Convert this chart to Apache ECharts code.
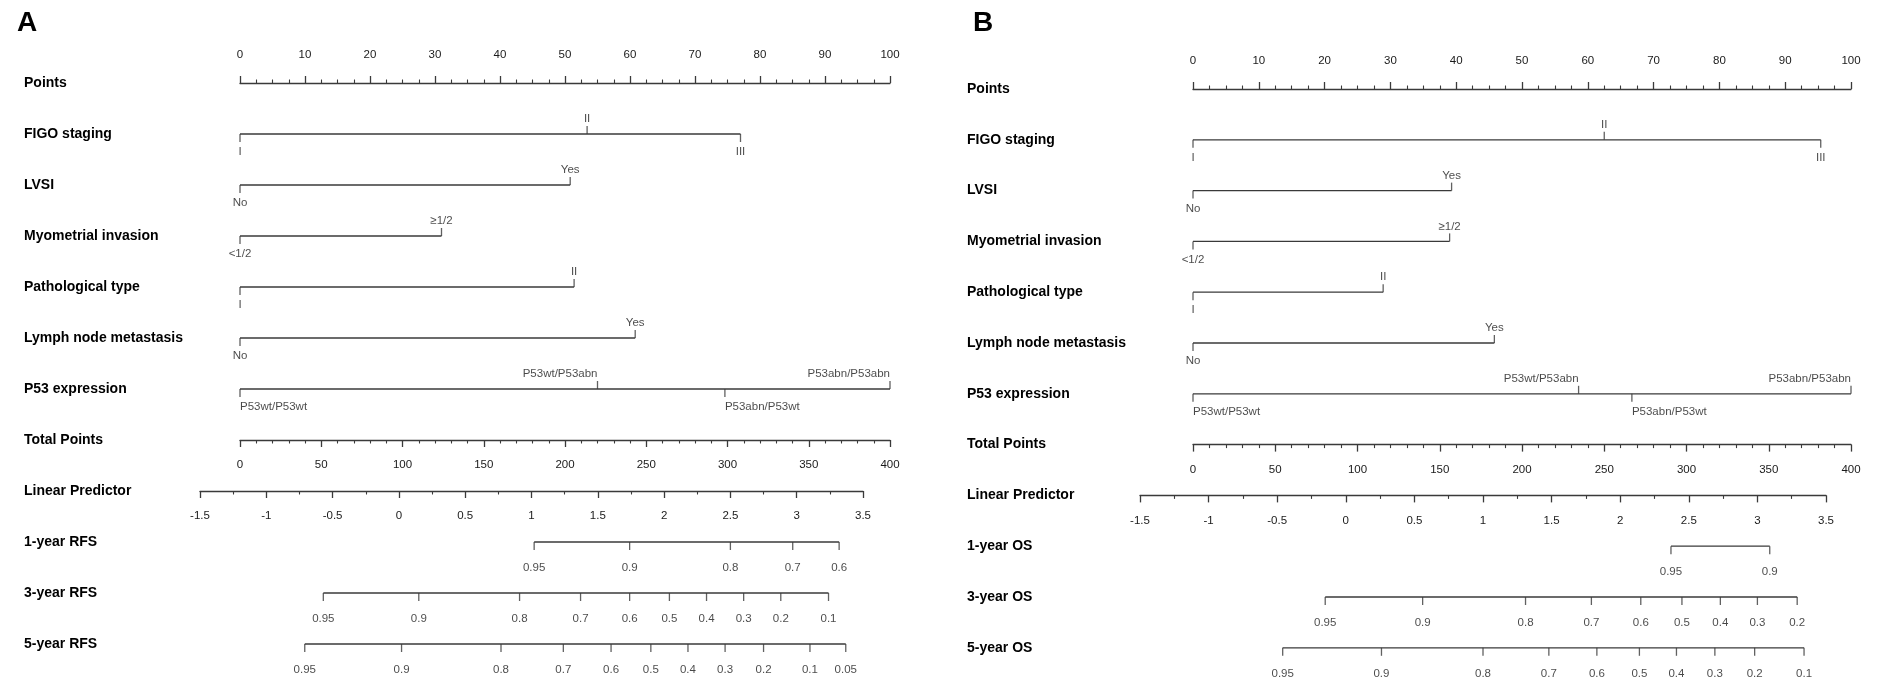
<!DOCTYPE html>
<html>
<head>
<meta charset="utf-8">
<title>Nomogram</title>
<script src="https://cdn.jsdelivr.net/npm/echarts@6/dist/echarts.min.js"></script>
<style>
html, body { margin: 0; padding: 0; background: #fff; }
#nomo { width: 1890px; height: 699px; }
</style>
</head>
<body>
<div id="nomo"></div>
<script>
// row names of the two nomograms
var rowNamesA = ['Points', 'FIGO staging', 'LVSI', 'Myometrial invasion', 'Pathological type',
	'Lymph node metastasis', 'P53 expression', 'Total Points', 'Linear Predictor',
	'1-year RFS', '3-year RFS', '5-year RFS'];
var rowNamesB = ['Points', 'FIGO staging', 'LVSI', 'Myometrial invasion', 'Pathological type',
	'Lymph node metastasis', 'P53 expression', 'Total Points', 'Linear Predictor',
	'1-year OS', '3-year OS', '5-year OS'];

// predictor levels and their points
var levelNames = [
	['I', 'II', 'III'],
	['No', 'Yes'],
	['<1/2', '≥1/2'],
	['I', 'II'],
	['No', 'Yes'],
	['P53wt/P53wt', 'P53wt/P53abn', 'P53abn/P53wt', 'P53abn/P53abn']
];
var levelPointsA = [[0, 53.4, 77.0], [0, 50.8], [0, 31.0], [0, 51.4], [0, 60.8], [0, 55.0, 74.6, 100]];
var levelPointsB = [[0, 62.5, 95.4], [0, 39.3], [0, 39.0], [0, 28.9], [0, 45.8], [0, 58.6, 66.7, 100]];

// scale ticks
var pointTicks = [0, 10, 20, 30, 40, 50, 60, 70, 80, 90, 100];
var totalTicks = [0, 50, 100, 150, 200, 250, 300, 350, 400];
var lpTicks = [-1.5, -1, -0.5, 0, 0.5, 1, 1.5, 2, 2.5, 3, 3.5];

// survival probabilities and where they sit on the linear predictor
var survProbsA = [
	[0.95, 0.9, 0.8, 0.7, 0.6],
	[0.95, 0.9, 0.8, 0.7, 0.6, 0.5, 0.4, 0.3, 0.2, 0.1],
	[0.95, 0.9, 0.8, 0.7, 0.6, 0.5, 0.4, 0.3, 0.2, 0.1, 0.05]
];
var survLpA = [
	[1.02, 1.74, 2.50, 2.97, 3.32],
	[-0.57, 0.15, 0.91, 1.37, 1.74, 2.04, 2.32, 2.60, 2.88, 3.24],
	[-0.71, 0.02, 0.77, 1.24, 1.60, 1.90, 2.18, 2.46, 2.75, 3.10, 3.37]
];
var survProbsB = [
	[0.95, 0.9],
	[0.95, 0.9, 0.8, 0.7, 0.6, 0.5, 0.4, 0.3, 0.2],
	[0.95, 0.9, 0.8, 0.7, 0.6, 0.5, 0.4, 0.3, 0.2, 0.1]
];
var survLpB = [
	[2.37, 3.09],
	[-0.15, 0.56, 1.31, 1.79, 2.15, 2.45, 2.73, 3.00, 3.29],
	[-0.46, 0.26, 1.00, 1.48, 1.83, 2.14, 2.41, 2.69, 2.98, 3.34]
];

var FONT = '"Liberation Sans", Arial, sans-serif';
var INK = '#3a3a3a';
var TXT = '#1a1a1a';
var TICK_FONT = 11.5;

var panels = [
	{ tag: 'A', tagLeft: 12, rows: rowNamesA, pts: levelPointsA, probs: survProbsA, lp: survLpA,
		labelX: 24, ptsLeft: 240, ptsWidth: 650, lpLeft: 200, lpWidth: 663, top: 83, step: 51 },
	{ tag: 'B', tagLeft: 968, rows: rowNamesB, pts: levelPointsB, probs: survProbsB, lp: survLpB,
		labelX: 967, ptsLeft: 1193, ptsWidth: 658, lpLeft: 1140, lpWidth: 686, top: 89, step: 50.8 }
];

function scaleAxis(gridIndex, position, ticks, minorSplit, margin) {
	return {
		type: 'value', gridIndex: gridIndex, position: position,
		min: ticks[0], max: ticks[ticks.length - 1], interval: ticks[1] - ticks[0],
		axisLine: { show: true, lineStyle: { color: INK, width: 1.3 } },
		axisTick: { show: true, length: 7, lineStyle: { color: INK, width: 1.3 } },
		minorTick: { show: true, splitNumber: minorSplit, length: 3.5, lineStyle: { color: INK, width: 1.1 } },
		axisLabel: { show: true, margin: margin, color: TXT, fontSize: TICK_FONT, fontFamily: FONT },
		splitLine: { show: false }, minorSplitLine: { show: false }
	};
}
function hiddenAxis(gridIndex, min, max, inverse) {
	return { type: 'value', gridIndex: gridIndex, min: min, max: max, inverse: !!inverse, show: false };
}

var grid = [], xAxis = [], yAxis = [], series = [], title = [];

panels.forEach(function (p, k) {
	var g = k * 4;
	var nRows = p.rows.length - 1;
	title.push({ text: p.tag, left: p.tagLeft, top: 4,
		textStyle: { fontSize: 28, fontWeight: 'bold', color: '#000', fontFamily: FONT } });

	// points grid: Points scale on top, row labels on the left, predictor rows inside
	grid.push({ left: p.ptsLeft, width: p.ptsWidth, top: p.top, height: p.step * nRows });
	xAxis.push(scaleAxis(g, 'top', pointTicks, 4, 22));
	yAxis.push({
		type: 'value', gridIndex: g, inverse: true, min: 0, max: nRows, interval: 1,
		axisLine: { show: false }, axisTick: { show: false }, splitLine: { show: false },
		axisLabel: {
			show: true, align: 'left', margin: p.ptsLeft - p.labelX,
			color: '#000', fontSize: 14, fontWeight: 'bold', fontFamily: FONT,
			formatter: function (v) { return p.rows[v] || ''; }
		}
	});

	// total points scale
	grid.push({ left: p.ptsLeft, width: p.ptsWidth, top: p.top + 7 * p.step - 1, height: 1 });
	xAxis.push(scaleAxis(g + 1, 'bottom', totalTicks, 5, 19));
	yAxis.push(hiddenAxis(g + 1, 0, 1));

	// linear predictor scale
	grid.push({ left: p.lpLeft, width: p.lpWidth, top: p.top + 8 * p.step - 1, height: 1 });
	xAxis.push(scaleAxis(g + 2, 'bottom', lpTicks, 2, 19));
	yAxis.push(hiddenAxis(g + 2, 0, 1));

	// survival rows share the linear predictor x scale
	grid.push({ left: p.lpLeft, width: p.lpWidth, top: p.top, height: p.step * nRows });
	xAxis.push(hiddenAxis(g + 3, lpTicks[0], lpTicks[lpTicks.length - 1]));
	yAxis.push(hiddenAxis(g + 3, 0, nRows, true));

	var up = [], down = [];
	p.pts.forEach(function (vals, i) {
		var row = i + 1;
		series.push({
			type: 'line', xAxisIndex: g, yAxisIndex: g, silent: true, symbol: 'none', clip: false,
			lineStyle: { color: INK, width: 1.3 },
			data: [[vals[0], row], [vals[vals.length - 1], row]]
		});
		vals.forEach(function (v, j) {
			var name = levelNames[i][j];
			var above = j % 2 === 1;
			var item = { name: name, value: [v, row] };
			if (name.length > 6) item.label = { align: above ? 'right' : 'left' };
			(above ? up : down).push(item);
		});
	});
	var tickLabel = { show: true, formatter: '{b}', color: TXT, fontSize: TICK_FONT, fontFamily: FONT };
	series.push({
		type: 'scatter', xAxisIndex: g, yAxisIndex: g, silent: true, clip: false,
		symbol: 'rect', symbolSize: [1.3, 8], symbolOffset: [0, -4],
		itemStyle: { color: INK },
		label: Object.assign({ position: 'top', distance: 1 }, tickLabel),
		data: up
	});
	series.push({
		type: 'scatter', xAxisIndex: g, yAxisIndex: g, silent: true, clip: false,
		symbol: 'rect', symbolSize: [1.3, 8], symbolOffset: [0, 4],
		itemStyle: { color: INK },
		label: Object.assign({ position: 'bottom', distance: 4 }, tickLabel),
		data: down
	});

	// survival probability rows
	p.lp.forEach(function (vals, i) {
		var row = 9 + i;
		series.push({
			type: 'line', xAxisIndex: g + 3, yAxisIndex: g + 3, silent: true, symbol: 'none', clip: false,
			lineStyle: { color: INK, width: 1.3 },
			data: [[vals[0], row], [vals[vals.length - 1], row]]
		});
		series.push({
			type: 'scatter', xAxisIndex: g + 3, yAxisIndex: g + 3, silent: true, clip: false,
			symbol: 'rect', symbolSize: [1.3, 8], symbolOffset: [0, 4],
			itemStyle: { color: INK },
			label: Object.assign({ position: 'bottom', distance: 12 }, tickLabel),
			data: vals.map(function (v, j) { return { name: String(p.probs[i][j]), value: [v, row] }; })
		});
	});
});

var myChart = echarts.init(document.getElementById('nomo'));
myChart.setOption({
	backgroundColor: '#fff',
	animation: false,
	title: title,
	grid: grid,
	xAxis: xAxis,
	yAxis: yAxis,
	series: series
});
</script>
</body>
</html>
